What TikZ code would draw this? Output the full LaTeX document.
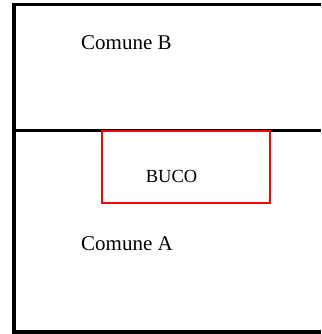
\documentclass[tikz,border=0pt]{standalone}
\usepackage{fontspec}
\setmainfont{Liberation Serif}
\begin{document}
\begin{tikzpicture}[x=1pt,y=-1pt,
  border/.style={line width=3.5pt,black},
  bucobox/.style={draw=red,line width=1.6pt},
  label/.style={inner sep=0pt,anchor=base west,font=\fontsize{21}{24}\selectfont},
]
\useasboundingbox (0,0) rectangle (321,334);
\coordinate (tl) at (14,4.5);
\coordinate (tr) at (321,4.5);
\coordinate (ml) at (14,130.5);
\coordinate (mr) at (321,130.5);
\coordinate (bl) at (14,332);
\coordinate (br) at (321,332);
\draw[border] (tr) -- (tl) -- (bl) -- (br);
\draw[border] (ml) -- (mr);
\node[bucobox,minimum width=168pt,minimum height=72pt,inner sep=0pt] (buco) at (186,166.7) {};
\node[inner sep=0pt,anchor=base west,font=\fontsize{18.5}{22}\selectfont] (bucot) at (145.7,182.7) {BUCO};
\node[label] (cb) at (81,50) {Comune B};
\node[label] (ca) at (81,250) {Comune A};
\end{tikzpicture}
\end{document}
